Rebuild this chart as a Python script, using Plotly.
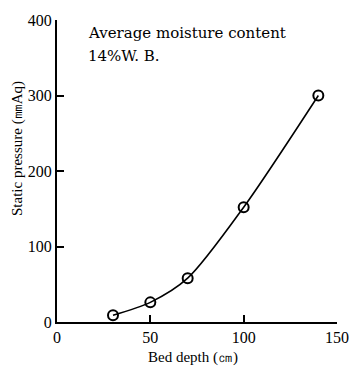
import plotly.graph_objects as go

bed_depth = [30, 50, 70, 100, 140]
static_pressure = [9, 26, 58, 152, 300]
x_ticks = [0, 50, 100, 150]
y_ticks = [0, 100, 200, 300, 400]

serif = "Liberation Serif, Times New Roman, serif"
wide_serif = "DejaVu Serif, serif"

fig = go.Figure()
fig.add_trace(go.Scatter(
    x=bed_depth, y=static_pressure, mode="lines+markers",
    line=dict(color="black", width=1.6, shape="spline", smoothing=0.8),
    marker=dict(symbol="circle-open", size=10, color="black", line=dict(width=2, color="black")),
    cliponaxis=False, showlegend=False,
))

for txt, yy in [("Average moisture content", 0.958), ("14%W. B.", 0.882)]:
    fig.add_annotation(
        x=0.1036, y=yy, xref="paper", yref="paper", xanchor="left", yanchor="middle",
        text=txt, showarrow=False, align="left",
        font=dict(family=wide_serif, size=15, color="black"),
    )

fig.add_annotation(
    x=-0.143, y=0.576, xref="paper", yref="paper", xanchor="center", yanchor="middle",
    text="Static pressure (㎜Aq)", textangle=-90, showarrow=False,
    font=dict(family=serif, size=15, color="black"),
)
fig.add_annotation(
    x=0.486, y=-0.116, xref="paper", yref="paper", xanchor="center", yanchor="middle",
    text="Bed depth (㎝)", showarrow=False,
    font=dict(family=serif, size=15, color="black"),
)

fig.update_layout(
    width=349, height=373,
    margin=dict(l=57, r=12, t=20, b=51),
    plot_bgcolor="white", paper_bgcolor="white",
    font=dict(family=serif, color="black", size=14),
    xaxis=dict(
        range=[0, 150], tickvals=x_ticks, ticks="inside", ticklen=7, tickwidth=2,
        tickcolor="black", showline=True, linecolor="black", linewidth=2,
        showgrid=False, zeroline=False, automargin=False,
        tickfont=dict(size=16),
    ),
    yaxis=dict(
        range=[0, 400], tickvals=y_ticks, ticks="inside", ticklen=7, tickwidth=2,
        tickcolor="black", showline=True, linecolor="black", linewidth=2,
        showgrid=False, zeroline=False, automargin=False,
        tickfont=dict(size=16),
    ),
)

fig.write_html("out.html", config={"displayModeBar": False},
               post_script="document.body.style.margin='0';")
